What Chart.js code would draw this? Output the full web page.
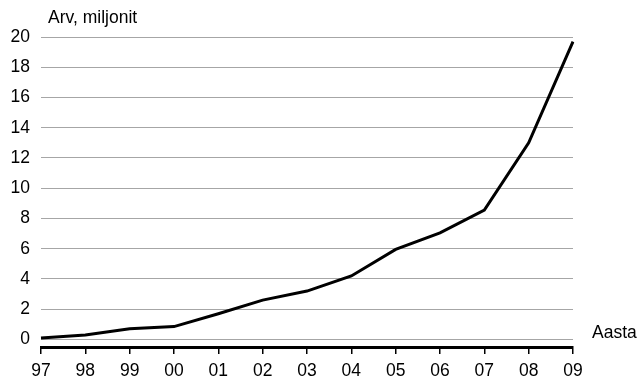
<!DOCTYPE html>
<html>
<head>
<meta charset="utf-8">
<script src="https://cdn.jsdelivr.net/npm/chart.js@4/dist/chart.umd.min.js"></script>
<style>
  html, body { margin: 0; padding: 0; background: #fff; }
  #wrap { width: 638px; height: 378px; }
</style>
</head>
<body>
<div id="wrap"><canvas id="c" width="638" height="378"></canvas></div>
<script>
// Years (two-digit labels) and value in millions
const years = ['97', '98', '99', '00', '01', '02', '03', '04', '05', '06', '07', '08', '09'];
const values = [0.1, 0.3, 0.7, 0.85, 1.7, 2.6, 3.2, 4.2, 5.95, 7.05, 8.55, 13.0, 19.7];
const yTicks = [0, 2, 4, 6, 8, 10, 12, 14, 16, 18, 20];
const yTitle = 'Arv, miljonit';
const xTitle = 'Aasta';

const FONT = "'Liberation Sans', Arial, sans-serif";
const SIZE = 17.5;

// Axis captions: one above the value axis, one to the right of the year axis
const captions = {
  id: 'captions',
  afterDraw(chart) {
    const { ctx, chartArea } = chart;
    ctx.save();
    ctx.fillStyle = '#000';
    ctx.font = SIZE + 'px ' + FONT;
    ctx.textBaseline = 'middle';
    ctx.textAlign = 'left';
    ctx.fillText(yTitle, chartArea.left + 7, chartArea.top - 19);
    ctx.fillText(xTitle, chartArea.right + 19, chartArea.bottom - 14);
    ctx.restore();
  }
};

new Chart(document.getElementById('c'), {
  type: 'line',
  data: {
    labels: years,
    datasets: [{
      data: values,
      borderColor: '#000',
      borderWidth: 3,
      pointRadius: 0,
      tension: 0,
      fill: false
    }]
  },
  options: {
    responsive: false,
    animation: false,
    layout: { padding: { top: 37, right: 65, left: 0, bottom: 0 } },
    plugins: { legend: { display: false }, tooltip: { enabled: false } },
    scales: {
      x: {
        offset: false,
        border: { display: true, color: '#000', width: 3 },
        grid: { drawOnChartArea: false, drawTicks: true, tickLength: 7, color: '#000', lineWidth: 1.5 },
        ticks: { color: '#000', font: { family: FONT, size: SIZE }, padding: 7, maxRotation: 0, autoSkip: false },
        afterFit(scale) { scale.height = 31; }
      },
      y: {
        min: -0.5,
        max: 20,
        border: { display: false },
        grid: { color: '#a6a6a6', lineWidth: 1, drawTicks: false },
        ticks: { color: '#000', font: { family: FONT, size: SIZE }, padding: 11 },
        afterBuildTicks(scale) { scale.ticks = yTicks.map(v => ({ value: v })); },
        afterFit(scale) { scale.width = 41; }
      }
    }
  },
  plugins: [captions]
});
</script>
</body>
</html>
